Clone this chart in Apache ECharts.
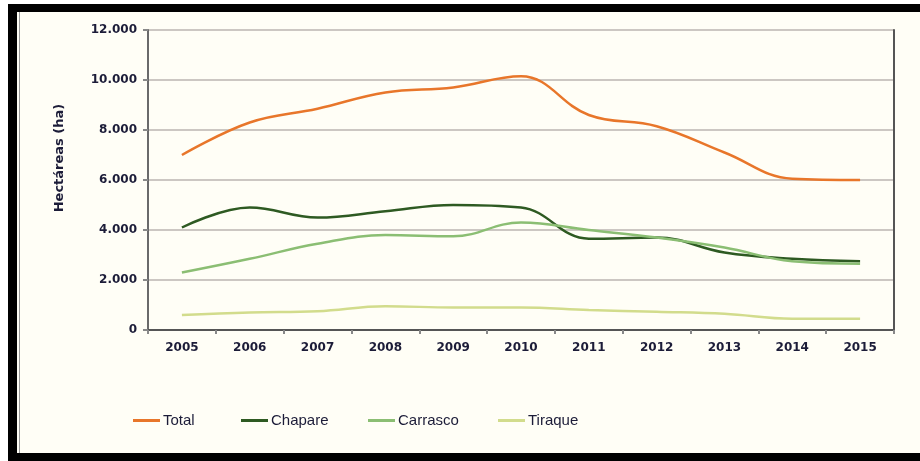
<!DOCTYPE html>
<html><head><meta charset="utf-8">
<script src="https://cdn.jsdelivr.net/npm/echarts@6/dist/echarts.min.js"></script>
<style>
html,body{margin:0;padding:0;background:#fff;}
#wrap{position:relative;width:920px;height:461px;overflow:hidden;background:#fff;}
#chart{position:absolute;left:0;top:0;width:920px;height:461px;}
.b{position:absolute;background:#000;}
</style></head><body>
<div id="wrap">
<div id="chart"></div>
<div class="b" style="left:8px;top:4px;width:912px;height:8px;"></div>
<div class="b" style="left:8px;top:4px;width:9px;height:457px;"></div>
<div class="b" style="left:8px;top:453px;width:912px;height:8px;"></div>
<div style="position:absolute;left:19px;top:12px;width:1px;height:441px;background:#999;"></div>
<div style="position:absolute;left:0;top:0;width:8px;height:461px;background:#fff;"></div>
<div style="position:absolute;left:0;top:0;width:920px;height:4px;background:#fff;"></div>
</div>
<script>
const years = ['2005','2006','2007','2008','2009','2010','2011','2012','2013','2014','2015'];
const total    = [7000, 8300, 8850, 9500, 9700, 10150, 8600, 8150, 7100, 6050, 6000];
const chapare  = [4100, 4900, 4500, 4750, 5000, 4900, 3650, 3700, 3100, 2850, 2750];
const carrasco = [2300, 2850, 3450, 3800, 3750, 4300, 4000, 3700, 3300, 2750, 2650];
const tiraque  = [600, 700, 750, 950, 900, 900, 800, 730, 650, 450, 450];
const yTicks = [0, 2000, 4000, 6000, 8000, 10000, 12000];
const seriesNames = ['Total','Chapare','Carrasco','Tiraque'];
const colors = ['#E8762A','#2E5A22','#8BBE73','#D2DC8C'];

const fmt = v => v === 0 ? '0' : (v/1000).toFixed(3);
const txt = '#1c1c38';
const tickFont = {color: txt, fontFamily: 'DejaVu Sans', fontWeight: 'bold', fontSize: 12};
const chart = echarts.init(document.getElementById('chart'));
const dataSets = [total, chapare, carrasco, tiraque];
const legendLefts = [128, 236, 363, 493];
chart.setOption({
  backgroundColor: '#FFFEF6',
  animation: false,
  grid: {left: 148, top: 30, right: 26, bottom: 131},
  legend: seriesNames.map((n, i) => ({
    data: [n], left: legendLefts[i], top: 408, icon: 'rect', itemWidth: 27, itemHeight: 3,
    itemGap: 0, textStyle: {color: txt, fontFamily: 'Liberation Sans', fontSize: 15, padding: [0,0,0,-2]}
  })),
  xAxis: [{
    type: 'category', data: years, boundaryGap: true,
    axisLine: {lineStyle: {color: '#6a6a6a', width: 2}},
    axisTick: {show: true, length: 4, lineStyle: {color: '#888', width: 2}},
    axisLabel: Object.assign({margin: 12}, tickFont)
  }, {
    type: 'category', data: years, position: 'top',
    axisLine: {lineStyle: {color: '#555', width: 2}}, axisTick: {show: false}, axisLabel: {show: false}
  }],
  yAxis: [{
    type: 'value', min: 0, max: 12000, interval: 2000,
    name: 'Hectáreas (ha)', nameLocation: 'middle', nameGap: 82, nameRotate: 90,
    nameTextStyle: {color: txt, fontFamily: 'DejaVu Sans', fontWeight: 'bold', fontSize: 13, padding: [0,0,0,44]},
    axisLine: {show: true, lineStyle: {color: '#6a6a6a', width: 2}},
    axisTick: {show: true, length: 5, lineStyle: {color: '#888', width: 2}},
    axisLabel: Object.assign({margin: 11, formatter: v => yTicks.includes(v) ? fmt(v) : ''}, tickFont),
    splitLine: {lineStyle: {color: '#ccc7c2', width: 2}}
  }, {
    type: 'value', min: 0, max: 12000, interval: 2000, position: 'right',
    axisLine: {show: true, lineStyle: {color: '#555', width: 2}}, axisTick: {show: false},
    axisLabel: {show: false}, splitLine: {show: false}
  }],
  series: seriesNames.map((n, i) => ({
    name: n, type: 'line', data: dataSets[i], smooth: 0.4, showSymbol: false, symbol: 'none',
    lineStyle: {color: colors[i], width: 2.5}, itemStyle: {color: colors[i]}
  }))
});
</script></body></html>
